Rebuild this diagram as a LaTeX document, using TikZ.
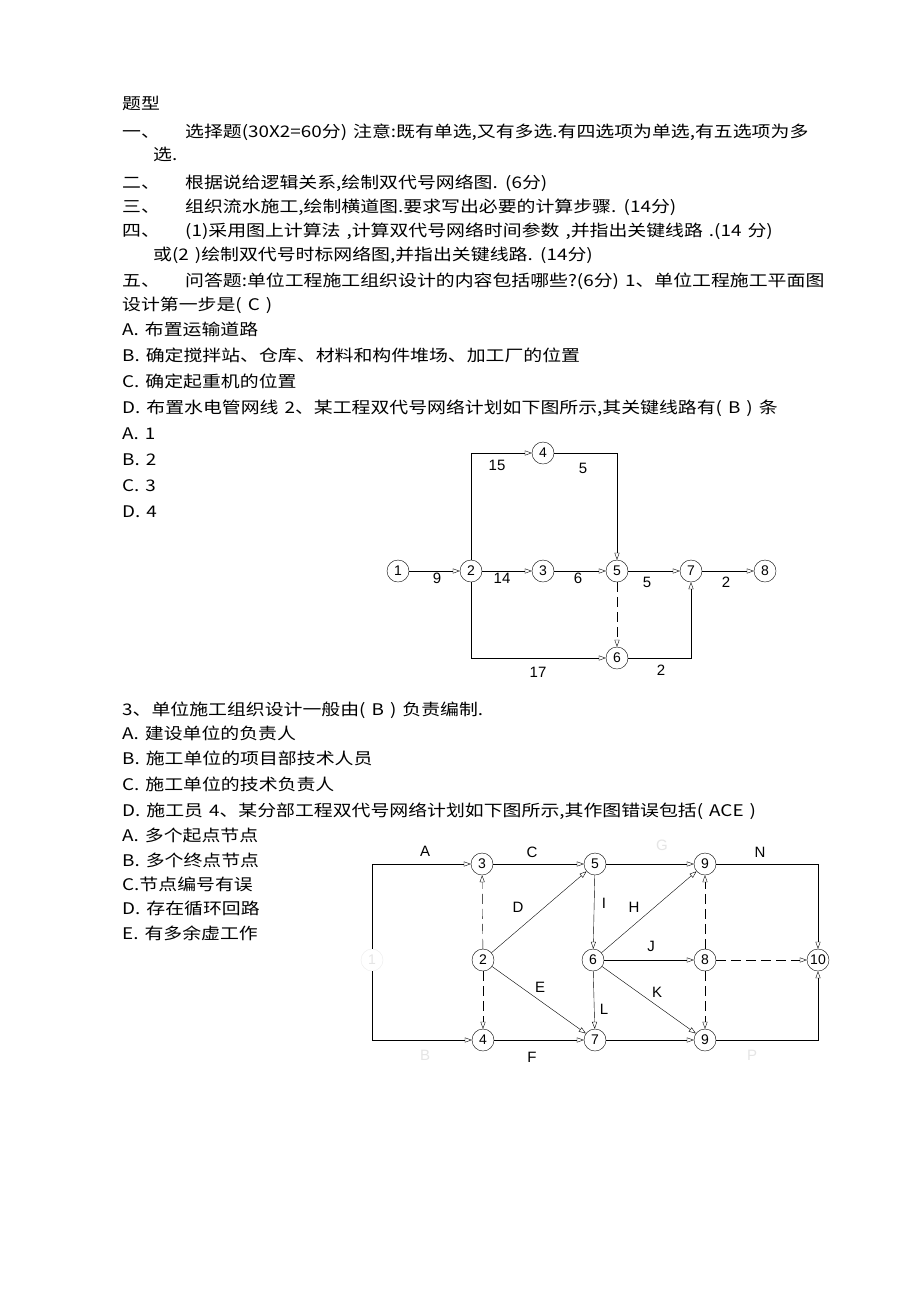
\documentclass[tikz,border=0pt]{standalone}
\usepackage{fontspec}
\setmainfont[FakeStretch=1.18]{Noto Sans CJK SC}
\newfontfamily\latinfont{Liberation Sans}
\usetikzlibrary{arrows.meta}
\newcommand\bodysize{\fontsize{16}{18}\selectfont\spaceskip=6pt\relax}
\tikzset{
  txt/.style={anchor=base west,inner sep=0pt,font=\bodysize},
  nd/.style={draw,circle,minimum size=22pt,inner sep=0pt,font=\latinfont\fontsize{14}{14}\selectfont,fill=white},
  faint/.style={draw=gray!15,text=gray!20},
  act/.style={-{Triangle[open,length=7pt,width=5pt]},thin},
  lbl/.style={font=\latinfont\fontsize{15}{15}\selectfont,inner sep=1pt},
  dum/.style={act,dash pattern=on 10pt off 5pt}
}
\begin{document}
\begin{tikzpicture}[x=1pt,y=-1pt]
\useasboundingbox (0,0) rectangle (920,1302);
\fill[white] (0,0) rectangle (920,1302);
% text
\node[txt] (t0) at (122,109) {题型};
\node[txt] (t1) at (122,137) {一、};
\node[txt] (t1b) at (185,137) {选择题(30X2=60分) 注意:既有单选,又有多选.有四选项为单选,有五选项为多};
\node[txt] (t1c) at (153,160) {选.};
\node[txt] (t2) at (122,188) {二、};
\node[txt] (t2b) at (185,188) {根据说给逻辑关系,绘制双代号网络图. (6分)};
\node[txt] (t3) at (122,212) {三、};
\node[txt] (t3b) at (185,212) {组织流水施工,绘制横道图.要求写出必要的计算步骤. (14分)};
\node[txt] (t4) at (122,236) {四、};
\node[txt] (t4b) at (185,236) {(1)采用图上计算法 ,计算双代号网络时间参数 ,并指出关键线路 .(14 分)};
\node[txt] (t4c) at (153,260) {或(2 )绘制双代号时标网络图,并指出关键线路. (14分)};
\node[txt] (t5) at (122,286) {五、};
\node[txt] (t5b) at (185,286) {问答题:单位工程施工组织设计的内容包括哪些?(6分) 1、单位工程施工平面图};
\node[txt] (t5c) at (122,310) {设计第一步是( C )};
\node[txt] (q1a) at (122,335) {A. 布置运输道路};
\node[txt] (q1b) at (122,361) {B. 确定搅拌站、仓库、材料和构件堆场、加工厂的位置};
\node[txt] (q1c) at (122,387) {C. 确定起重机的位置};
\node[txt] (q1d) at (122,413) {D. 布置水电管网线  2、某工程双代号网络计划如下图所示,其关键线路有( B ) 条};
\node[txt] (q2a) at (122,439) {A. 1};
\node[txt] (q2b) at (122,465) {B. 2};
\node[txt] (q2c) at (122,491) {C. 3};
\node[txt] (q2d) at (122,517) {D. 4};
\node[txt] (q3) at (122,715) {3、单位施工组织设计一般由( B ) 负责编制.};
\node[txt] (q3a) at (122,739) {A. 建设单位的负责人};
\node[txt] (q3b) at (122,764) {B. 施工单位的项目部技术人员};
\node[txt] (q3c) at (122,790) {C. 施工单位的技术负责人};
\node[txt] (q3d) at (122,816) {D. 施工员  4、某分部工程双代号网络计划如下图所示,其作图错误包括( ACE )};
\node[txt] (q4a) at (122,841) {A. 多个起点节点};
\node[txt] (q4b) at (122,866) {B. 多个终点节点};
\node[txt] (q4c) at (122,890) {C.节点编号有误};
\node[txt] (q4d) at (122,914) {D. 存在循环回路};
\node[txt] (q4e) at (122,939) {E. 有多余虚工作};
% first network
\node[nd] (a1) at (398,571) {1};
\node[nd] (a2) at (471,571) {2};
\node[nd] (a3) at (543,571) {3};
\node[nd] (a5) at (617,571) {5};
\node[nd] (a7) at (691,571) {7};
\node[nd] (a8) at (765,571) {8};
\node[nd] (a4) at (543,453) {4};
\node[nd] (a6) at (617,658) {6};
\draw[act] (a1) -- (a2);
\draw[act] (a2) -- (a3);
\draw[act] (a3) -- (a5);
\draw[act] (a5) -- (a7);
\draw[act] (a7) -- (a8);
\draw[act] (a2.north) |- (a4);
\draw[act] (a4) -| (a5.north);
\draw[act] (a2.south) |- (a6);
\draw[act] (a6) -| (a7.south);
\draw[dum] (a5) -- (a6);
\node[lbl] (w9) at (437,578) {9};
\node[lbl] (w14) at (502,578) {14};
\node[lbl] (w6) at (578,578) {6};
\node[lbl] (w5) at (647,582) {5};
\node[lbl] (w2) at (726,582) {2};
\node[lbl] (w15) at (497,465) {15};
\node[lbl] (w5b) at (583,468) {5};
\node[lbl] (w17) at (538,672) {17};
\node[lbl] (w2b) at (661,670) {2};
% second network
\node[nd,faint] (b1) at (372,960) {1};
\node[nd] (b3) at (482,864) {3};
\node[nd] (b5) at (595,864) {5};
\node[nd] (b9t) at (705,864) {9};
\node[nd] (b2) at (483,960) {2};
\node[nd] (b6) at (593,960) {6};
\node[nd] (b8) at (705,960) {8};
\node[nd] (b10) at (818,960) {10};
\node[nd] (b4) at (483,1040) {4};
\node[nd] (b7) at (595,1040) {7};
\node[nd] (b9b) at (705,1040) {9};
\draw[act] (b1.north) |- (b3);
\draw[act] (b1.south) |- (b4);
\draw[act] (b3) -- (b5);
\draw[act] (b5) -- (b9t);
\draw[act] (b4) -- (b7);
\draw[act] (b7) -- (b9b);
\draw[act] (b9t) -| (b10.north);
\draw[act] (b9b) -| (b10.south);
\draw[act] (b2) -- (b5);
\draw[act] (b2) -- (b7);
\draw[act] (b5) -- (b6);
\draw[act] (b6) -- (b7);
\draw[act] (b6) -- (b9t);
\draw[act] (b6) -- (b8);
\draw[act] (b6) -- (b9b);
\draw[dum] (b2) -- (b3);
\draw[dum] (b2) -- (b4);
\draw[dum] (b8) -- (b9t);
\draw[dum] (b8) -- (b9b);
\draw[dum] (b8) -- (b10);
\node[lbl] (lA) at (425,851) {A};
\node[lbl] (lC) at (532,852) {C};
\node[lbl,text=gray!20] (lG) at (662,845) {G};
\node[lbl] (lN) at (760,852) {N};
\node[lbl] (lD) at (518,907) {D};
\node[lbl] (lI) at (604,903) {I};
\node[lbl] (lH) at (634,907) {H};
\node[lbl] (lJ) at (651,946) {J};
\node[lbl] (lE) at (540,987) {E};
\node[lbl] (lK) at (657,992) {K};
\node[lbl] (lL) at (604,1009) {L};
\node[lbl,text=gray!20] (lB) at (425,1055) {B};
\node[lbl] (lF) at (532,1057) {F};
\node[lbl,text=gray!20] (lP) at (752,1055) {P};
\end{tikzpicture}
\end{document}
